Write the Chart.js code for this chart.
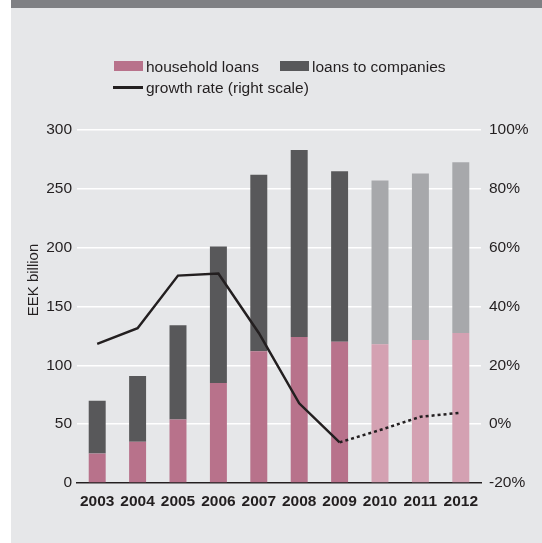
<!DOCTYPE html>
<html>
<head>
<meta charset="utf-8">
<script src="https://cdn.jsdelivr.net/npm/chart.js@4.4.1/dist/chart.umd.min.js"></script>
<style>
  html, body { margin: 0; padding: 0; background: #fff; }
  #frame { position: absolute; left: 11px; top: 0; width: 531px; height: 543px; background: #e6e7e9; }
  #band { position: absolute; left: 11px; top: 0; width: 531px; height: 8px; background: #7f8084; }
  #wrap { position: absolute; left: 0; top: 0; width: 542px; height: 543px; }
  .leg { position: absolute; font-family: "Liberation Sans", Arial, sans-serif; font-size: 15.5px; color: #231f20; line-height: 18px; white-space: nowrap; }
  .box { position: absolute; width: 29px; height: 10px; }
  .ln { position: absolute; width: 30px; height: 2.5px; background: #231f20; }
</style>
</head>
<body>
<div id="frame"></div>
<div id="band"></div>
<div id="wrap"><canvas id="chart" width="542" height="543"></canvas></div>

<div class="box" style="left:114px; top:61px; background:#b8728b;"></div>
<div class="leg" style="left:146px; top:58px;">household loans</div>
<div class="box" style="left:280px; top:61px; background:#58585a;"></div>
<div class="leg" style="left:312px; top:58px;">loans to companies</div>
<div class="ln" style="left:113px; top:86px;"></div>
<div class="leg" style="left:146px; top:79px;">growth rate (right scale)</div>

<script>
// Chart data (EEK billion, growth in %)
const years = ['2003', '2004', '2005', '2006', '2007', '2008', '2009', '2010', '2011', '2012'];
const householdLoans = [25, 35, 54, 85, 112, 124, 120, 118, 121.5, 127.5];
const companyLoans = [45, 56, 80, 116, 150, 159, 145, 139, 141.5, 145];
const growthRate = [27.3, 32.6, 50.5, 51.2, 31, 7.1, -6.2, -2, 2.5, 3.9];
const leftTicks = [0, 50, 100, 150, 200, 250, 300];
const rightTicks = [-20, 0, 20, 40, 60, 80, 100];

const forecastFrom = 7; // 2010 onwards drawn lighter, line dotted from 2009
const ink = '#231f20';
const font = { family: '"Liberation Sans", Arial, sans-serif', size: 15.5 };

const shade = (base, light) => years.map((_, i) => i >= forecastFrom ? light : base);

// y-axis title drawn by hand so it sits where the original has it
const axisTitle = {
  id: 'axisTitle',
  afterDraw(chart) {
    const c = chart.ctx;
    c.save();
    c.translate(34, 280);
    c.rotate(-Math.PI / 2);
    c.font = '15px "Liberation Sans", Arial, sans-serif';
    c.fillStyle = ink;
    c.textAlign = 'center';
    c.textBaseline = 'middle';
    c.fillText('EEK billion', 0, 0);
    c.restore();
  }
};

new Chart(document.getElementById('chart'), {
  type: 'bar',
  data: {
    labels: years,
    datasets: [
      {
        type: 'line',
        label: 'growth rate (right scale)',
        data: growthRate,
        yAxisID: 'y1',
        borderColor: ink,
        borderWidth: 2.5,
        pointRadius: 0,
        tension: 0,
        order: 0,
        segment: {
          borderDash: ctx => ctx.p0DataIndex >= forecastFrom - 1 ? [3, 3] : undefined
        }
      },
      {
        label: 'household loans',
        data: householdLoans,
        backgroundColor: shade('#b8728b', '#d4a1b2'),
        barPercentage: 0.42,
        categoryPercentage: 1,
        order: 1
      },
      {
        label: 'loans to companies',
        data: companyLoans,
        backgroundColor: shade('#58585a', '#a7a8ab'),
        barPercentage: 0.42,
        categoryPercentage: 1,
        order: 1
      }
    ]
  },
  options: {
    responsive: false,
    animation: false,
    layout: { padding: { top: 130, left: 0, right: 0, bottom: 0 } },
    plugins: {
      legend: { display: false },
      tooltip: { enabled: false }
    },
    scales: {
      x: {
        stacked: true,
        grid: { display: false, drawTicks: false },
        border: { display: true, color: ink, width: 1.5 },
        ticks: {
          color: ink,
          font: { ...font, weight: 'bold' },
          padding: 9,
          maxRotation: 0,
          minRotation: 0,
          autoSkip: false
        },
        afterFit: s => { s.height = 60; }
      },
      y: {
        stacked: true,
        min: 0,
        max: 300,
        afterBuildTicks: s => { s.ticks = leftTicks.map(v => ({ value: v })); },
        grid: { color: '#ffffff', lineWidth: 1.5, drawTicks: false },
        border: { display: false },
        ticks: { color: ink, font: font, padding: 5 },
        afterFit: s => { s.width = 77; }
      },
      y1: {
        position: 'right',
        min: -20,
        max: 100,
        afterBuildTicks: s => { s.ticks = rightTicks.map(v => ({ value: v })); },
        grid: { display: false, drawTicks: false },
        border: { display: false },
        ticks: { color: ink, font: font, padding: 8, callback: v => v + '%' },
        afterFit: s => { s.width = 61; }
      }
    }
  },
  plugins: [axisTitle]
});
</script>
</body>
</html>
